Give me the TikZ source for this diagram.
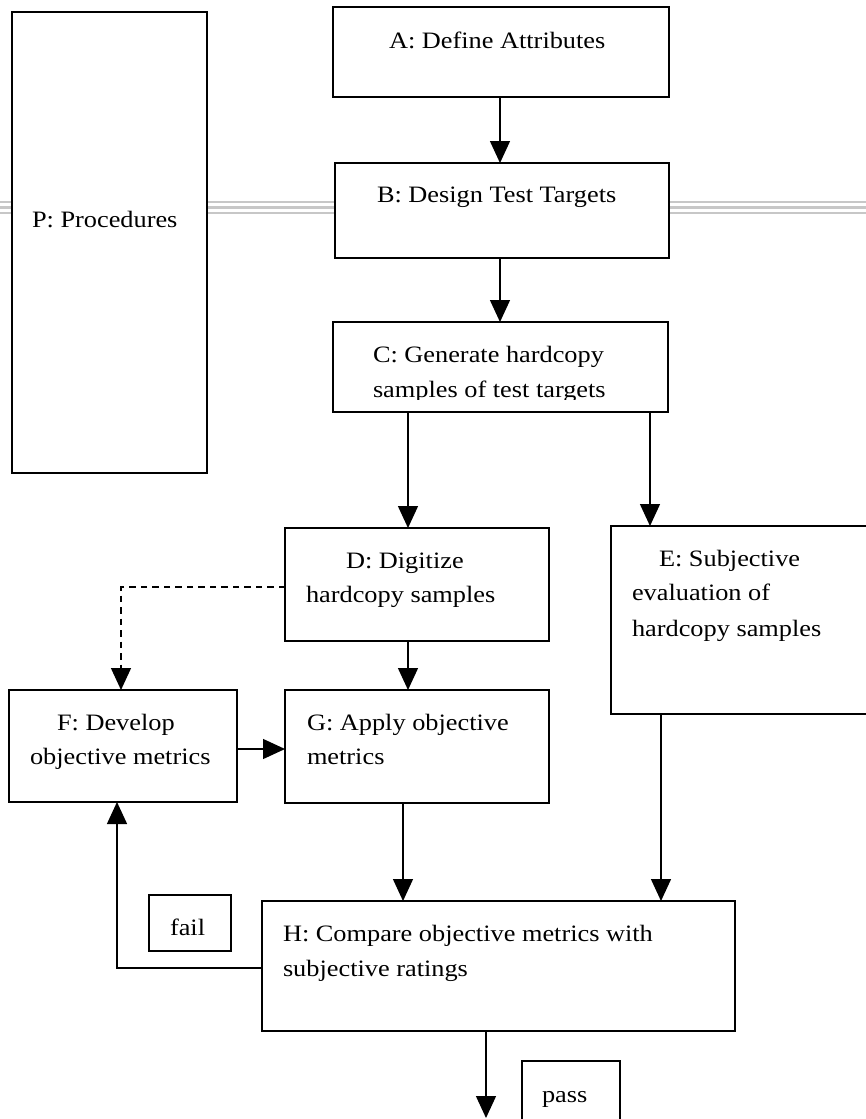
\documentclass[tikz,border=0pt]{standalone}
\usepackage{fontspec}
\setmainfont{Liberation Serif}[FakeStretch=1.12]
\usetikzlibrary{arrows.meta}
\begin{document}
\begin{tikzpicture}[x=1pt,y=-1pt,
  box/.style={draw,line width=1.8pt,fill=white,inner sep=0pt,outer sep=0pt},
  txt/.style={anchor=base west,inner sep=0pt,outer sep=0pt,font=\fontsize{23.5}{34.5}\selectfont},
  conn/.style={line width=1.4pt,-{Triangle[length=22pt,width=20pt]}},
  dashconn/.style={conn,dash pattern=on 6.5pt off 5pt},
  rule/.style={line width=2.6pt,color=black!22}]
\useasboundingbox (0,0) rectangle (866,1119);
% header rule
\draw[rule] (0,202) -- (866,202);
\draw[rule] (0,207.5) -- (866,207.5);
\draw[rule] (0,213) -- (866,213);
% boxes
\node[box,minimum width=195pt,minimum height=461pt] (P) at (109.5,242.5) {};
\node[box,minimum width=336pt,minimum height=90pt] (A) at (501,52) {};
\node[box,minimum width=334pt,minimum height=95pt] (B) at (502,210.5) {};
\node[box,minimum width=335pt,minimum height=90pt] (C) at (500.5,367) {};
\node[box,minimum width=264pt,minimum height=113pt] (D) at (417,584.5) {};
\node[box,minimum width=269pt,minimum height=188pt] (E) at (745.5,620) {};
\node[box,minimum width=228pt,minimum height=112pt] (F) at (123,746) {};
\node[box,minimum width=264pt,minimum height=113pt] (G) at (417,746.5) {};
\node[box,minimum width=473pt,minimum height=130pt] (H) at (498.5,966) {};
\node[box,minimum width=82pt,minimum height=56pt] (fail) at (190,923) {};
\node[box,minimum width=98pt,minimum height=74pt] (pass) at (571,1098) {};
% texts
\node[txt] (Pt) at (32,227) {P: Procedures};
\node[txt] (At) at (389,48) {A: Define Attributes};
\node[txt] (Bt) at (377,202) {B: Design Test Targets};
\begin{scope}
\clip (333,322) rectangle (668,399);
\node[txt] (Ct1) at (373,362) {C: Generate hardcopy};
\node[txt] (Ct2) at (373,397) {samples of test targets};
\end{scope}
\node[txt] (Dt1) at (346,568) {D: Digitize};
\node[txt] (Dt2) at (306,602) {hardcopy samples};
\node[txt] (Et1) at (659,566) {E: Subjective};
\node[txt] (Et2) at (632,600) {evaluation of};
\node[txt] (Et3) at (632,636) {hardcopy samples};
\node[txt] (Ft1) at (57,730) {F: Develop};
\node[txt] (Ft2) at (30,764) {objective metrics};
\node[txt] (Gt1) at (307,730) {G: Apply objective};
\node[txt] (Gt2) at (307,764) {metrics};
\node[txt] (Ht1) at (283,941) {H: Compare objective metrics with};
\node[txt] (Ht2) at (283,976) {subjective ratings};
\node[txt] (failt) at (170,935) {fail};
\node[txt] (passt) at (542,1102) {pass};
% helper coordinates
\coordinate (x500) at (500,0);
\coordinate (x408) at (408,0);
\coordinate (x650) at (650,0);
\coordinate (x121) at (121,0);
\coordinate (x117) at (117,0);
\coordinate (x403) at (403,0);
\coordinate (x661) at (661,0);
\coordinate (x486) at (486,0);
\coordinate (y587) at (0,587);
\coordinate (y749) at (0,749);
\coordinate (y968) at (0,968);
\coordinate (endp) at (486,1118);
% connectors
\draw[conn] (A.south -| x500) -- (B.north -| x500);
\draw[conn] (B.south -| x500) -- (C.north -| x500);
\draw[conn] (C.south -| x408) -- (D.north -| x408);
\draw[conn] (C.south -| x650) -- (E.north -| x650);
\draw[conn] (D.south -| x408) -- (G.north -| x408);
\draw[dashconn] (D.west |- y587) -| (F.north -| x121);
\draw[conn] (F.east |- y749) -- (G.west |- y749);
\draw[conn] (G.south -| x403) -- (H.north -| x403);
\draw[conn] (E.south -| x661) -- (H.north -| x661);
\draw[conn] (H.west |- y968) -| (F.south -| x117);
\draw[conn] (H.south -| x486) -- (endp);
\end{tikzpicture}
\end{document}
